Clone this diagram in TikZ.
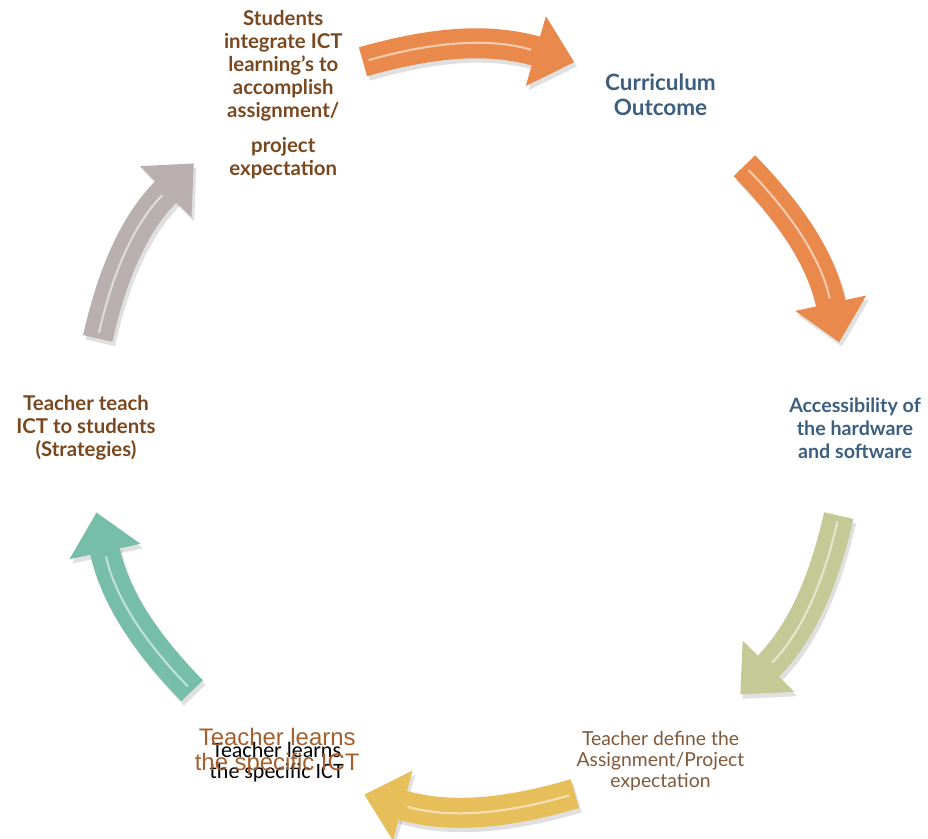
\documentclass[tikz,border=0pt]{standalone}
\usepackage{fontspec}
\setmainfont{Lato}
\newfontfamily\arialfont{Liberation Sans}
\newfontfamily\calibrifont{Carlito}
\usetikzlibrary{arrows.meta}
\definecolor{textbrown}{RGB}{122,72,30}
\definecolor{textblue}{RGB}{60,95,128}
\definecolor{definebrown}{RGB}{128,88,58}
\definecolor{arialbrown}{RGB}{165,95,45}
\definecolor{arroworange}{RGB}{233,137,75}
\definecolor{arrowgreen}{RGB}{196,201,150}
\definecolor{arrowgold}{RGB}{230,190,90}
\definecolor{arrowteal}{RGB}{118,189,170}
\definecolor{arrowgrey}{RGB}{185,175,175}

\begin{document}
\begin{tikzpicture}[
      every node/.style={align=center,inner sep=1pt},
      boldlabel/.style={font=\bfseries\fontsize{11.6}{13}\selectfont},
      brownlabel/.style={boldlabel,text=textbrown},
      bluelabel/.style={boldlabel,text=textblue},
      band/.style={line width=0.6cm,draw=#1,-{Triangle[width=1.4cm,length=0.8cm]}},
      shine/.style={line width=1.2pt,draw=white,opacity=0.55,shorten >=0.9cm,shorten <=0.12cm},
      shadow/.style={line width=0.6cm,draw=black,opacity=0.12,-{Triangle[width=1.4cm,length=0.8cm]},
        transform canvas={shift={(1.5pt,-2.5pt)}}}]
    \useasboundingbox (-9.36,-8.2) rectangle (9.2,8.56);

    % labels round the cycle
    \node[brownlabel] (integrate) at (119:7.62) {Students\\ integrate ICT\\ learning's to\\ accomplish\\ assignment/\\[7pt] project\\ expectation};
    \node[bluelabel,font=\bfseries\fontsize{12.8}{14}\selectfont] (outcome) at (60:7.7) {Curriculum\\ Outcome};
    \node[bluelabel,font=\bfseries\fontsize{11.2}{13}\selectfont] (access) at (0:7.74) {Accessibility of\\ the hardware\\ and software};
    \node[text=definebrown,font=\fontsize{11}{12}\selectfont] (define) at (-60:7.7) {Teacher define the\\ Assignment/Project\\ expectation};
    \node[font=\calibrifont\fontsize{12.5}{12}\selectfont] (learnssmall) at (-119.8:7.7) {Teacher learns\\ the specific ICT};
    \node[text=arialbrown,font=\arialfont\fontsize{13.6}{14}\selectfont] (learnsbig) at (-120.5:7.52) {Teacher learns\\ the specific ICT};
    \node[brownlabel] (teach) at (180:7.64) {Teacher teach\\ ICT to students\\ (Strategies)};

    % arrow ends
    \coordinate (a1s) at (106:7.62);   \coordinate (a1e) at (73.8:7.62);
    \coordinate (a2s) at (43.5:7.62);  \coordinate (a2e) at (13:7.62);
    \coordinate (a3s) at (-13.3:7.62); \coordinate (a3e) at (-44.4:7.62);
    \coordinate (a4s) at (-73.7:7.62); \coordinate (a4e) at (-105.8:7.62);
    \coordinate (a5s) at (-136.4:7.62); \coordinate (a5e) at (-167.2:7.62);
    \coordinate (a6s) at (166.4:7.62); \coordinate (a6e) at (136:7.62);

    % shadows
    \draw[shadow] (a1s) to[bend left=16] (a1e);
    \draw[shadow] (a2s) to[bend left=16] (a2e);
    \draw[shadow] (a3s) to[bend left=16] (a3e);
    \draw[shadow] (a4s) to[bend left=16] (a4e);
    \draw[shadow] (a5s) to[bend left=16] (a5e);
    \draw[shadow] (a6s) to[bend left=16] (a6e);

    % arrows
    \draw[band=arroworange] (a1s) to[bend left=16] (a1e);
    \draw[band=arroworange] (a2s) to[bend left=16] (a2e);
    \draw[band=arrowgreen] (a3s) to[bend left=16] (a3e);
    \draw[band=arrowgold] (a4s) to[bend left=16] (a4e);
    \draw[band=arrowteal] (a5s) to[bend left=16] (a5e);
    \draw[band=arrowgrey] (a6s) to[bend left=16] (a6e);

    % highlights
    \draw[shine] (a1s) to[bend left=16] (a1e);
    \draw[shine] (a2s) to[bend left=16] (a2e);
    \draw[shine] (a3s) to[bend left=16] (a3e);
    \draw[shine] (a4s) to[bend left=16] (a4e);
    \draw[shine] (a5s) to[bend left=16] (a5e);
    \draw[shine] (a6s) to[bend left=16] (a6e);
\end{tikzpicture}
\end{document}
